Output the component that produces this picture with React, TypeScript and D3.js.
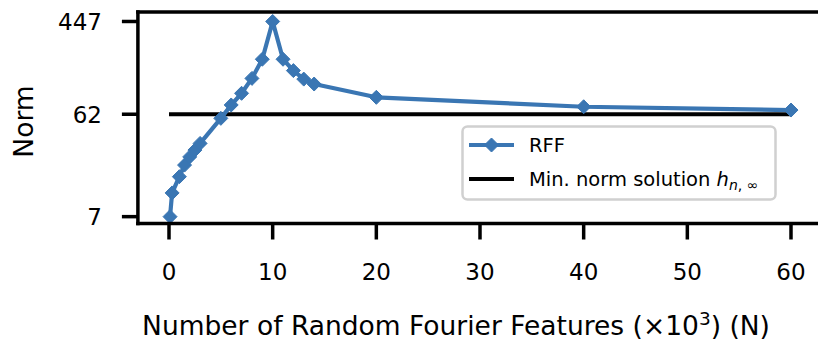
import React from "react";
import * as d3 from "d3";

const featuresK = [0.1, 0.3, 1, 1.5, 2, 2.5, 3, 5, 6, 7, 8, 9, 10, 11, 12, 13, 14, 20, 40, 60];
const rffNorm = [7, 11.6, 16.4, 21.0, 25.0, 28.9, 33.3, 56.8, 75.5, 96.8, 133, 200, 447, 200, 157, 131, 118, 88.9, 72.7, 67.8];
const minNormValue = 62;
const minNormX = [0, 60];
const xTicks = [0, 10, 20, 30, 40, 50, 60];
const yTicks = [7, 62, 447];
const legendLabels = ["RFF", "Min. norm solution"];

const W = 818;
const H = 340;
const BLUE = "#3a76b3";
const FONT = "DejaVu Sans, sans-serif";

export default function App() {
  const x = d3.scaleLinear().domain([-3, 63]).range([137.9, 822.1]);
  const y = d3.scaleLog().domain([6.05, 547]).range([223.5, 12]);
  const left = x(-3);
  const right = x(63);
  const top = y(547);
  const bottom = y(6.05);

  const line = d3
    .line<number>()
    .x((_, i) => x(featuresK[i]))
    .y((d) => y(d));

  const diamond = (cx: number, cy: number, r: number) =>
    `M${cx},${cy - r}L${cx + r},${cy}L${cx},${cy + r}L${cx - r},${cy}Z`;

  const legX = 462.5;
  const legY = 126.5;
  const legW = 313;
  const legH = 73;
  const row1 = 145;
  const row2 = 179;

  return (
    <svg
      width={W}
      height={H}
      style={{ position: "absolute", left: 0, top: 0, background: "#fff" }}
      fontFamily={FONT}
    >
      {/* min norm line */}
      <line
        x1={x(minNormX[0])}
        x2={x(minNormX[1])}
        y1={y(minNormValue)}
        y2={y(minNormValue)}
        stroke="#000"
        strokeWidth={4.2}
      />
      {/* RFF line */}
      <path d={line(rffNorm) || ""} fill="none" stroke={BLUE} strokeWidth={4.2} strokeLinejoin="round" />
      {rffNorm.map((v, i) => (
        <path key={i} d={diamond(x(featuresK[i]), y(v), 7)} fill={BLUE} stroke={BLUE} strokeWidth={1} />
      ))}

      {/* spines */}
      <line x1={left} x2={left} y1={top} y2={bottom} stroke="#000" strokeWidth={3.5} strokeLinecap="square" />
      <line x1={left} x2={right} y1={top} y2={top} stroke="#000" strokeWidth={3.5} strokeLinecap="square" />
      <line x1={left} x2={right} y1={bottom} y2={bottom} stroke="#000" strokeWidth={3.5} strokeLinecap="square" />
      <line x1={right} x2={right} y1={top} y2={bottom} stroke="#000" strokeWidth={3.5} />

      {/* x ticks */}
      {xTicks.map((t) => (
        <g key={t}>
          <line x1={x(t)} x2={x(t)} y1={bottom} y2={bottom + 16} stroke="#000" strokeWidth={3.5} />
          <text x={x(t)} y={280} textAnchor="middle" fontSize={23} fill="#000">
            {t}
          </text>
        </g>
      ))}
      {/* y ticks */}
      {yTicks.map((t) => (
        <g key={t}>
          <line x1={left - 16} x2={left} y1={y(t)} y2={y(t)} stroke="#000" strokeWidth={3.5} />
          <text x={102} y={y(t)} dy="0.36em" textAnchor="end" fontSize={23} fill="#000">
            {t}
          </text>
        </g>
      ))}

      {/* axis labels */}
      <text x={456} y={335} textAnchor="middle" fontSize={26.5} fill="#000">
        Number of Random Fourier Features (×10
        <tspan fontSize={18.5} dy={-10}>3</tspan>
        <tspan dy={10}>) (N)</tspan>
      </text>
      <text
        transform={`translate(33,121.5) rotate(-90)`}
        textAnchor="middle"
        fontSize={26.5}
        fill="#000"
      >
        Norm
      </text>

      {/* legend */}
      <rect x={legX} y={legY} width={legW} height={legH} rx={5} ry={5} fill="#fff" fillOpacity={0.8} stroke="#d0d0d0" strokeWidth={2.5} />
      <line x1={469} x2={514} y1={row1} y2={row1} stroke={BLUE} strokeWidth={4.2} />
      <path d={diamond(491.5, row1, 7)} fill={BLUE} stroke={BLUE} strokeWidth={1} />
      <text x={529} y={row1} dy="0.36em" fontSize={19.5} fill="#000">
        {legendLabels[0]}
      </text>
      <line x1={469} x2={514} y1={row2} y2={row2} stroke="#000" strokeWidth={4.2} />
      <text x={529} y={row2} dy="0.36em" fontSize={19.5} fill="#000">
        {legendLabels[1]}{" "}
        <tspan fontStyle="italic">h</tspan>
        <tspan fontSize={14} dy={4} fontStyle="italic">n</tspan>
        <tspan fontSize={14}>, ∞</tspan>
      </text>
    </svg>
  );
}
